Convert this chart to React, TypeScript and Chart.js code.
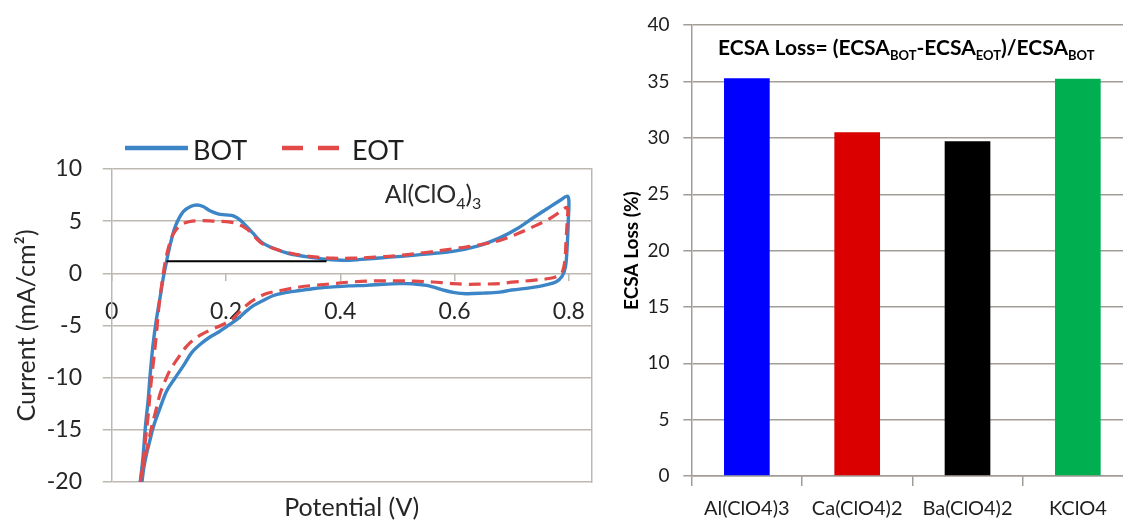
import React, { useEffect, useRef } from 'react';
import { Chart, registerables } from 'chart.js';

Chart.register(...registerables);

// ---------------- Data: cyclic voltammogram (left panel) ----------------
const cvSeriesNames = ['BOT', 'EOT'];

const botPotential = [
  0.050, 0.055, 0.059, 0.064, 0.067, 0.072, 0.078, 0.085, 0.090, 0.096, 0.103, 0.112, 0.125, 0.138, 0.149,
  0.160, 0.172, 0.186, 0.200, 0.213, 0.225, 0.236, 0.248, 0.262, 0.283, 0.310, 0.340, 0.375, 0.411, 0.450,
  0.500, 0.550, 0.597, 0.640, 0.679, 0.710, 0.737, 0.765, 0.785, 0.797,
  0.800, 0.799, 0.797, 0.794, 0.788, 0.778, 0.760, 0.737, 0.700, 0.679, 0.650, 0.620, 0.600, 0.580, 0.565,
  0.551, 0.525, 0.504, 0.475, 0.446, 0.415, 0.387, 0.355, 0.329, 0.300, 0.282, 0.265, 0.248, 0.236, 0.224,
  0.212, 0.201, 0.188, 0.172, 0.155, 0.140, 0.125, 0.110, 0.096, 0.084, 0.073, 0.066, 0.061, 0.056, 0.053,
];
const botCurrent = [
  -20, -17.5, -14.7, -12, -9.9, -7, -4.5, -2.2, -0.5, 1.15, 2.9, 4.6, 5.9, 6.4, 6.55,
  6.4, 6.0, 5.7, 5.6, 5.5, 5.1, 4.5, 3.8, 3.0, 2.4, 1.9, 1.6, 1.35, 1.24, 1.4,
  1.6, 1.85, 2.1, 2.6, 3.4, 4.3, 5.3, 6.3, 7.0, 7.4,
  7.0, 5.0, 2.5, 0.6, -0.3, -0.8, -1.1, -1.35, -1.6, -1.8, -1.9, -1.95, -1.85, -1.6, -1.35,
  -1.15, -1.0, -0.99, -1.05, -1.15, -1.2, -1.3, -1.45, -1.65, -1.9, -2.15, -2.6, -3.1, -3.6, -4.2,
  -4.7, -5.1, -5.6, -6.1, -6.8, -7.6, -8.9, -10.1, -11.3, -13, -14.7, -16.2, -17.3, -18.7, -20,
];

const eotPotential = [
  0.050, 0.054, 0.059, 0.064, 0.068, 0.073, 0.078, 0.082, 0.087, 0.093, 0.100, 0.108, 0.120, 0.135, 0.155,
  0.180, 0.200, 0.213, 0.228, 0.242, 0.252, 0.262, 0.280, 0.300, 0.330, 0.360, 0.387, 0.420, 0.460, 0.504,
  0.550, 0.597, 0.640, 0.679, 0.710, 0.737, 0.765, 0.785, 0.797,
  0.797, 0.795, 0.793, 0.789, 0.783, 0.765, 0.737, 0.700, 0.679, 0.650, 0.620, 0.590, 0.562, 0.530, 0.504,
  0.475, 0.446, 0.415, 0.387, 0.355, 0.329, 0.300, 0.271, 0.250, 0.235, 0.222, 0.213, 0.195, 0.172, 0.150,
  0.131, 0.115, 0.102, 0.092, 0.085, 0.077, 0.070, 0.062, 0.055, 0.051,
];
const eotCurrent = [
  -20, -18.5, -16, -13.5, -11, -8.5, -6, -3.5, -1.3, 0.9, 2.6, 3.8, 4.6, 4.95, 5.05,
  5.0, 4.95, 4.85, 4.55, 4.0, 3.4, 2.9, 2.45, 2.1, 1.75, 1.55, 1.45, 1.45, 1.55, 1.72,
  2.0, 2.35, 2.7, 3.15, 3.8, 4.45, 5.2, 5.9, 6.3,
  5.0, 3.0, 1.2, 0.2, -0.2, -0.5, -0.67, -0.85, -0.99, -1.03, -1.05, -0.95, -0.83, -0.75, -0.72,
  -0.72, -0.75, -0.85, -0.99, -1.15, -1.31, -1.6, -1.94, -2.5, -3.1, -3.8, -4.3, -4.9, -5.45, -6.1,
  -7.0, -8.2, -9.3, -10.5, -11.5, -13.2, -14.7, -16.8, -18.5, -20,
];

// black reference line drawn on the anodic branch
const baselinePotential = [0.096, 0.376];
const baselineCurrent = [1.15, 1.15];

const cvXTicks = [0, 0.2, 0.4, 0.6, 0.8];
const cvYTicks = [-20, -15, -10, -5, 0, 5, 10];
const cvXRange = [0, 0.84];
const cvYRange = [-20, 10];
const cvAnnotation = { main1: 'Al(ClO', sub1: '4', main2: ')', sub2: '3', atPotential: 0.478, atCurrent: 6.7 };

// ---------------- Data: ECSA loss bars (right panel) ----------------
const saltCategories = ['Al(ClO4)3', 'Ca(ClO4)2', 'Ba(ClO4)2', 'KClO4'];
const ecsaLoss = [35.3, 30.5, 29.7, 35.25];
const barColors = ['#0000FF', '#DA0000', '#000000', '#00B050'];
const barYTicks = [0, 5, 10, 15, 20, 25, 30, 35, 40];
const barTitleParts: [string, boolean][] = [
  ['ECSA Loss= (ECSA', false],
  ['BOT', true],
  ['-ECSA', false],
  ['EOT', true],
  [')/ECSA', false],
  ['BOT', true],
];

const FONT = 'Lato, "Open Sans", "DejaVu Sans", sans-serif';
const CV_GRID = '#BDB9B1';
const BAR_GRID = '#A29E97';

const cvLegendPlugin = {
  id: 'cvLegend',
  afterDraw(chart: any) {
    const ctx = chart.ctx;
    const ds = chart.data.datasets;
    const items = [
      { ds: ds[0], x0: 125, x1: 188, tx: 193, dash: [] as number[] },
      { ds: ds[1], x0: 282, x1: 340, tx: 352, dash: [21, 15] },
    ];
    ctx.save();
    for (const it of items) {
      ctx.beginPath();
      ctx.setLineDash(it.dash);
      ctx.strokeStyle = it.ds.borderColor;
      ctx.lineWidth = 4.5;
      ctx.lineCap = 'butt';
      ctx.moveTo(it.x0, 148);
      ctx.lineTo(it.x1, 148);
      ctx.stroke();
      ctx.setLineDash([]);
      ctx.fillStyle = '#1f1f1f';
      ctx.font = `27px ${FONT}`;
      ctx.textBaseline = 'alphabetic';
      ctx.textAlign = 'left';
      ctx.fillText(it.ds.label, it.tx, 160);
    }
    ctx.restore();
  },
};

const cvAnnotationPlugin = {
  id: 'cvAnnotation',
  afterDraw(chart: any) {
    const ctx = chart.ctx;
    const x = chart.scales.x.getPixelForValue(cvAnnotation.atPotential);
    const y = chart.scales.y.getPixelForValue(cvAnnotation.atCurrent);
    const parts: [string, boolean][] = [
      [cvAnnotation.main1, false],
      [cvAnnotation.sub1, true],
      [cvAnnotation.main2, false],
      [cvAnnotation.sub2, true],
    ];
    ctx.save();
    ctx.fillStyle = '#2a2a2a';
    ctx.textBaseline = 'alphabetic';
    ctx.textAlign = 'left';
    let cx = x;
    for (const [t, sub] of parts) {
      ctx.font = sub ? `16px ${FONT}` : `25px ${FONT}`;
      ctx.fillText(t, cx, sub ? y + 6 : y);
      cx += ctx.measureText(t).width;
    }
    ctx.restore();
  },
};

const barTitlePlugin = {
  id: 'barTitle',
  afterDraw(chart: any) {
    const ctx = chart.ctx;
    const area = chart.chartArea;
    ctx.save();
    ctx.fillStyle = '#000';
    ctx.textBaseline = 'alphabetic';
    ctx.textAlign = 'left';
    let cx = area.left + 26.3;
    const y = area.top + 30;
    for (const [t, sub] of barTitleParts) {
      ctx.font = sub ? `bold 13px ${FONT}` : `bold 21px ${FONT}`;
      ctx.fillText(t, cx, sub ? y + 5 : y);
      cx += ctx.measureText(t).width;
    }
    ctx.restore();
  },
};

export default function App() {
  const leftRef = useRef<HTMLCanvasElement | null>(null);
  const rightRef = useRef<HTMLCanvasElement | null>(null);

  useEffect(() => {
    const toXY = (xs: number[], ys: number[]) => xs.map((v, i) => ({ x: v, y: ys[i] }));

    const left = new Chart(leftRef.current as HTMLCanvasElement, {
      type: 'scatter',
      data: {
        datasets: [
          {
            label: cvSeriesNames[0],
            data: toXY(botPotential, botCurrent),
            showLine: true,
            borderColor: '#3C85C6',
            backgroundColor: '#3C85C6',
            borderWidth: 3.4,
            pointRadius: 0,
            tension: 0.35,
            order: 2,
          },
          {
            label: cvSeriesNames[1],
            data: toXY(eotPotential, eotCurrent),
            showLine: true,
            borderColor: '#E24A4A',
            backgroundColor: '#E24A4A',
            borderWidth: 3.2,
            borderDash: [12, 7],
            pointRadius: 0,
            tension: 0.35,
            order: 1,
          },
          {
            label: 'baseline',
            data: toXY(baselinePotential, baselineCurrent),
            showLine: true,
            borderColor: '#000000',
            borderWidth: 2,
            pointRadius: 0,
            tension: 0,
            order: 0,
          },
        ],
      },
      options: {
        responsive: false,
        animation: false,
        layout: { padding: { top: 169, right: 18.3, left: 0, bottom: 0 } },
        plugins: { legend: { display: false }, tooltip: { enabled: false } },
        scales: {
          x: {
            type: 'linear',
            position: { y: 0 } as any,
            min: cvXRange[0],
            max: cvXRange[1],
            afterBuildTicks: (s: any) => {
              s.ticks = cvXTicks.map((v) => ({ value: v }));
            },
            grid: { display: true, drawOnChartArea: false, drawTicks: true, tickLength: 8, color: CV_GRID, lineWidth: 1.5 },
            border: { display: false },
            ticks: {
              font: { family: FONT, size: 23 },
              color: '#262626',
              padding: 16.7,
              maxRotation: 0,
              callback: (v: any) => String(v),
            },
          },
          xTitle: {
            type: 'linear',
            position: 'bottom',
            min: 0,
            max: 1,
            grid: { display: false, drawTicks: false },
            border: { display: false },
            ticks: { display: false },
            title: {
              display: true,
              text: 'Potential (V)',
              font: { family: FONT, size: 25, lineHeight: 1.04 },
              color: '#262626',
              padding: { top: 0, bottom: 0.5 },
            },
            afterFit: (s: any) => {
              s.height = 39;
            },
          },
          y: {
            type: 'linear',
            position: 'left',
            min: cvYRange[0],
            max: cvYRange[1],
            afterBuildTicks: (s: any) => {
              s.ticks = cvYTicks.map((v) => ({ value: v }));
            },
            grid: { color: CV_GRID, lineWidth: 1.5, tickLength: 9 },
            border: { display: true, color: CV_GRID, width: 1.5 },
            ticks: {
              font: { family: FONT, size: 23 },
              color: '#262626',
              padding: 20.7,
              callback: (v: any) => String(v),
            },
            title: {
              display: true,
              text: 'Current (mA/cm²)',
              font: { family: FONT, size: 25 },
              color: '#262626',
              padding: { top: 12, bottom: 0 },
            },
            afterFit: (s: any) => {
              s.width = 111.7;
            },
          },
          yRight: {
            type: 'linear',
            position: 'right',
            min: cvYRange[0],
            max: cvYRange[1],
            grid: { display: false, drawTicks: false },
            border: { display: true, color: CV_GRID, width: 1.5 },
            ticks: { display: false },
            afterFit: (s: any) => {
              s.width = 0;
            },
          },
        },
      },
      plugins: [cvLegendPlugin, cvAnnotationPlugin],
    } as any);

    const right = new Chart(rightRef.current as HTMLCanvasElement, {
      type: 'bar',
      data: {
        labels: saltCategories,
        datasets: [
          {
            label: 'ECSA Loss (%)',
            data: ecsaLoss,
            backgroundColor: barColors,
            borderWidth: 0,
            categoryPercentage: 1,
            barPercentage: 0.414,
          },
        ],
      },
      options: {
        responsive: false,
        animation: false,
        layout: { padding: { top: 23.3, right: 7, left: 0, bottom: 0 } },
        plugins: { legend: { display: false }, tooltip: { enabled: false } },
        scales: {
          x: {
            type: 'category',
            grid: { display: true, drawOnChartArea: false, tickLength: 10, color: BAR_GRID, lineWidth: 1.5, offset: true },
            border: { display: true, color: BAR_GRID, width: 1.5 },
            ticks: { font: { family: FONT, size: 20 }, color: '#1e1e1e', padding: 10.6, maxRotation: 0, autoSkip: false },
            afterFit: (s: any) => {
              s.height = 45;
            },
          },
          y: {
            type: 'linear',
            min: 0,
            max: 40,
            afterBuildTicks: (s: any) => {
              s.ticks = barYTicks.map((v) => ({ value: v }));
            },
            grid: { color: BAR_GRID, lineWidth: 1.5, tickLength: 8.4 },
            border: { display: true, color: BAR_GRID, width: 1.5 },
            ticks: { font: { family: FONT, size: 19 }, color: '#1e1e1e', padding: 13.8, callback: (v: any) => String(v) },
            title: {
              display: true,
              text: 'ECSA Loss (%)',
              font: { family: FONT, size: 19, weight: 'bold' },
              color: '#000',
              padding: { top: 10.1, bottom: 0 },
            },
            afterFit: (s: any) => {
              s.width = 81.7;
            },
          },
        },
      },
      plugins: [barTitlePlugin],
    } as any);

    return () => {
      left.destroy();
      right.destroy();
    };
  }, []);

  return (
    <div
      style={{
        position: 'fixed',
        left: 0,
        top: 0,
        width: 1123,
        height: 521,
        overflow: 'hidden',
        background: '#ffffff',
      }}
    >
      <canvas ref={leftRef} width={610} height={521} style={{ position: 'absolute', left: 0, top: 0 }} />
      <canvas ref={rightRef} width={530} height={521} style={{ position: 'absolute', left: 610, top: 0 }} />
    </div>
  );
}
